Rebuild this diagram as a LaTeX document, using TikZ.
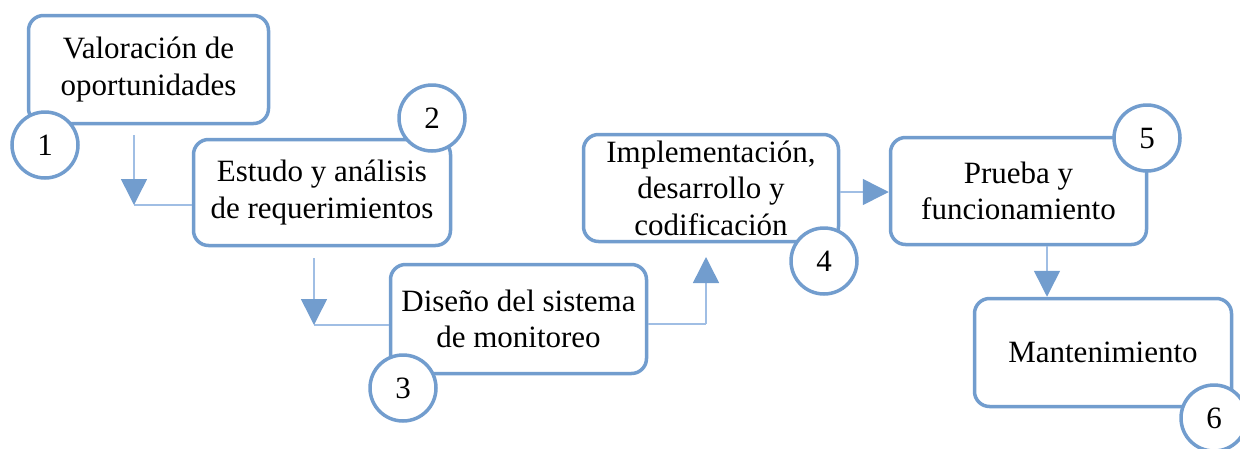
\documentclass[tikz,border=0pt]{standalone}
\usepackage{fontspec}
\setmainfont{Liberation Serif}
\usetikzlibrary{arrows.meta}
\definecolor{boxblue}{RGB}{114,157,206}
\definecolor{linkblue}{RGB}{160,190,228}
\tikzset{
  stepbox/.style={draw=boxblue, line width=3.5pt, rounded corners=15pt, fill=white,
    align=center, inner sep=0pt, font=\fontsize{31}{36.5}\selectfont},
  numcirc/.style={draw=boxblue, line width=3.5pt, circle, fill=white, minimum size=66pt,
    inner sep=0pt, font=\fontsize{31}{36}\selectfont},
  link/.style={draw=linkblue, line width=1.5pt},
  arr/.style={-{Triangle[length=26pt,width=26pt,color=boxblue,fill=boxblue]}}
}
\begin{document}
\begin{tikzpicture}[x=1pt,y=-1pt]
\useasboundingbox (0,0) rectangle (1240,448);
% coordinates for connectors
\coordinate (k1a) at (134,135);
\coordinate (k1) at (134,205);
\coordinate (k2a) at (314,258);
\coordinate (k2) at (314,325);
\coordinate (k3) at (706,324);
\coordinate (k3b) at (706,257);
\coordinate (k4) at (0,192);
\coordinate (k5) at (1047,0);
% boxes
\node[stepbox, minimum width=240pt, minimum height=108pt] (b1) at (148.5,69.5) {Valoración de\\oportunidades};
\node[stepbox, minimum width=257pt, minimum height=106pt] (b2) at (322,192.5) {Estudo y análisis\\de requerimientos};
\node[stepbox, minimum width=256pt, minimum height=109pt] (b3) at (518.5,319) {Diseño del sistema\\de monitoreo};
\node[stepbox, minimum width=255pt, minimum height=107pt] (b4) at (711,188) {Implementación,\\desarrollo y\\codificación};
\node[stepbox, minimum width=256pt, minimum height=107pt] (b5) at (1018.5,191) {Prueba y\\funcionamiento};
\node[stepbox, minimum width=257pt, minimum height=108pt] (b6) at (1103,352.5) {Mantenimiento};
% connectors
\draw[link] (k1 -| b2.west) -- (k1);
\draw[link,arr] (k1a) -- (k1);
\draw[link] (k2 -| b3.west) -- (k2);
\draw[link,arr] (k2a) -- (k2);
\draw[link] (k3 -| b3.east) -- (k3);
\draw[link,arr] (k3) -- (k3b);
\draw[link,arr] (b4.east |- k4) -- (b5.west |- k4);
\draw[link,arr] (b5.south -| k5) -- (b6.north -| k5);
% number circles
\node[numcirc] (c1) at (45,145) {1};
\node[numcirc] (c2) at (432,118) {2};
\node[numcirc] (c3) at (403,388) {3};
\node[numcirc] (c4) at (824,261) {4};
\node[numcirc] (c5) at (1147,138) {5};
\node[numcirc] (c6) at (1214,418) {6};
\end{tikzpicture}
\end{document}
